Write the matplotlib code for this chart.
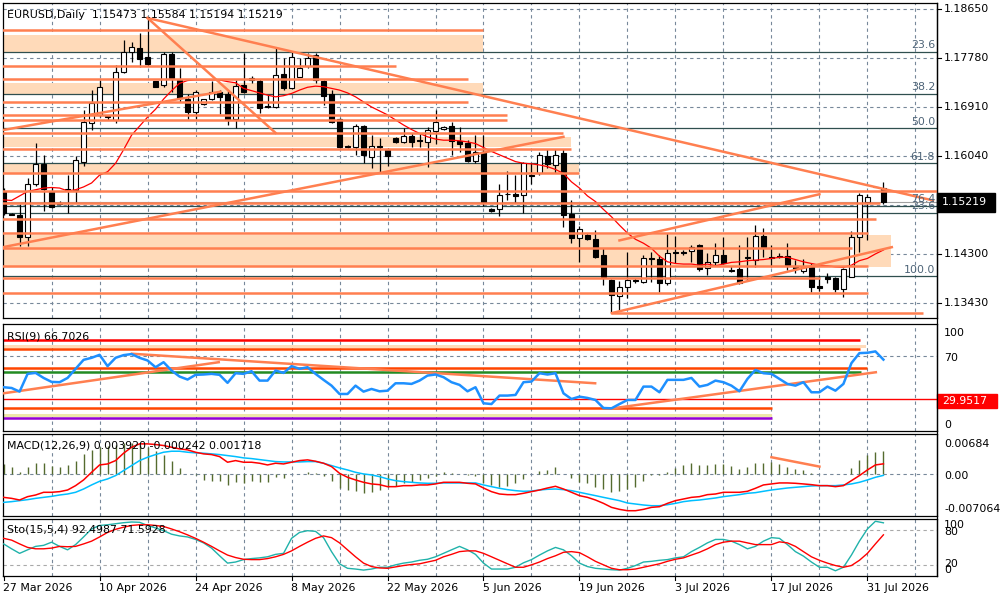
import matplotlib
matplotlib.use('Agg')
import numpy as np
import matplotlib.pyplot as plt
from matplotlib.patches import Rectangle
from matplotlib.transforms import blended_transform_factory

plt.rcParams['font.family'] = ['DejaVu Sans']
FS = 7.9

# ---- datos de velas (diario EURUSD) ----
open_ = [1.1540, 1.1501, 1.1499, 1.1460, 1.1554, 1.1590, 1.1540, 1.1521, 1.1545, 1.1544,
         1.1593, 1.1663, 1.1677, 1.1675, 1.1668, 1.1753, 1.1789, 1.1796, 1.1780, 1.1737,
         1.1730, 1.1785, 1.1739, 1.1705, 1.1682, 1.1696, 1.1705, 1.1718, 1.1714, 1.1670,
         1.1730, 1.1739, 1.1737, 1.1693, 1.1691, 1.1750, 1.1725, 1.1744, 1.1764, 1.1783,
         1.1737, 1.1714, 1.1670, 1.1621, 1.1620, 1.1657, 1.1602, 1.1622, 1.1616, 1.1636,
         1.1629, 1.1640, 1.1632, 1.1629, 1.1648, 1.1652, 1.1657, 1.1631, 1.1627, 1.1595,
         1.1611, 1.1510, 1.1510, 1.1537, 1.1537, 1.1535, 1.1570, 1.1574, 1.1604, 1.1588,
         1.1609, 1.1501, 1.1458, 1.1464, 1.1457, 1.1428, 1.1384, 1.1355, 1.1371, 1.1384,
         1.1380, 1.1423, 1.1421, 1.1378, 1.1433, 1.1433, 1.1435, 1.1446, 1.1405, 1.1416,
         1.1428, 1.1402, 1.1403, 1.1423, 1.1419, 1.1462, 1.1425, 1.1426, 1.1426, 1.1409,
         1.1400, 1.1407, 1.1373, 1.1389, 1.1387, 1.1368, 1.1389, 1.1460, 1.1522, 1.1549,
         1.15473]
high = [1.1547, 1.1503, 1.1519, 1.1565, 1.1627, 1.1606, 1.1549, 1.1524, 1.1570, 1.1604,
        1.1686, 1.1721, 1.1739, 1.1677, 1.1766, 1.1810, 1.1806, 1.1822, 1.1849, 1.1738,
        1.1789, 1.1789, 1.1760, 1.1714, 1.1721, 1.1705, 1.1737, 1.1721, 1.1719, 1.1739,
        1.1787, 1.1746, 1.1741, 1.1712, 1.1796, 1.1778, 1.1789, 1.1778, 1.1787, 1.1787,
        1.1739, 1.1721, 1.1671, 1.1623, 1.1661, 1.1659, 1.1641, 1.1636, 1.1618, 1.1638,
        1.1654, 1.1645, 1.1645, 1.1655, 1.1686, 1.1657, 1.1664, 1.1655, 1.1632, 1.1641,
        1.1641, 1.1512, 1.1554, 1.1577, 1.1570, 1.1593, 1.1592, 1.1611, 1.1616, 1.1616,
        1.1616, 1.1526, 1.1480, 1.1467, 1.1473, 1.1441, 1.1386, 1.1382, 1.1433, 1.1387,
        1.1428, 1.1433, 1.1428, 1.1467, 1.1462, 1.1437, 1.1446, 1.1448, 1.1432, 1.1449,
        1.1460, 1.1409, 1.1446, 1.1460, 1.1481, 1.1476, 1.1446, 1.1432, 1.1449, 1.1419,
        1.1421, 1.1414, 1.1391, 1.1396, 1.1389, 1.1405, 1.1471, 1.1538, 1.1537, 1.1550,
        1.15584]
low = [1.1499, 1.1499, 1.1444, 1.1444, 1.1551, 1.1506, 1.1512, 1.1517, 1.1503, 1.1522,
       1.1586, 1.1650, 1.1673, 1.1668, 1.1663, 1.1751, 1.1771, 1.1762, 1.1764, 1.1726,
       1.1726, 1.1718, 1.1700, 1.1670, 1.1670, 1.1695, 1.1703, 1.1679, 1.1659, 1.1654,
       1.1716, 1.1734, 1.1680, 1.1689, 1.1689, 1.1721, 1.1723, 1.1744, 1.1760, 1.1734,
       1.1695, 1.1663, 1.1618, 1.1619, 1.1606, 1.1592, 1.1583, 1.1574, 1.1586, 1.1627,
       1.1627, 1.1620, 1.1620, 1.1584, 1.1625, 1.1650, 1.1606, 1.1611, 1.1593, 1.1592,
       1.1515, 1.1505, 1.1497, 1.1526, 1.1521, 1.1503, 1.1554, 1.1570, 1.1583, 1.1574,
       1.1478, 1.1449, 1.1416, 1.1455, 1.1423, 1.1375, 1.1325, 1.1330, 1.1352, 1.1378,
       1.1378, 1.1380, 1.1362, 1.1375, 1.1414, 1.1428, 1.1416, 1.1400, 1.1393, 1.1410,
       1.1412, 1.1398, 1.1377, 1.1382, 1.1407, 1.1425, 1.1407, 1.1423, 1.1402, 1.1396,
       1.1396, 1.1362, 1.1364, 1.1378, 1.1362, 1.1354, 1.1389, 1.1433, 1.1455, 1.1548,
       1.15194]
close = [1.1503, 1.1500, 1.1460, 1.1554, 1.1590, 1.1545, 1.1513, 1.1519, 1.1544, 1.1597,
         1.1664, 1.1698, 1.1726, 1.1673, 1.1753, 1.1789, 1.1798, 1.1776, 1.1767, 1.1727,
         1.1785, 1.1742, 1.1707, 1.1682, 1.1718, 1.1705, 1.1718, 1.1709, 1.1668, 1.1728,
         1.1718, 1.1742, 1.1689, 1.1691, 1.1748, 1.1725, 1.1780, 1.1760, 1.1778, 1.1739,
         1.1711, 1.1664, 1.1620, 1.1620, 1.1657, 1.1606, 1.1622, 1.1620, 1.1604, 1.1629,
         1.1640, 1.1629, 1.1631, 1.1650, 1.1664, 1.1655, 1.1631, 1.1625, 1.1595, 1.1611,
         1.1521, 1.1506, 1.1535, 1.1536, 1.1533, 1.1592, 1.1569, 1.1606, 1.1590, 1.1606,
         1.1499, 1.1458, 1.1474, 1.1457, 1.1425, 1.1389, 1.1357, 1.1371, 1.1384, 1.1382,
         1.1423, 1.1421, 1.1378, 1.1432, 1.1432, 1.1432, 1.1442, 1.1403, 1.1416, 1.1428,
         1.1414, 1.1400, 1.1378, 1.1425, 1.1462, 1.1442, 1.1423, 1.1425, 1.1410, 1.1403,
         1.1407, 1.1371, 1.1370, 1.1386, 1.1368, 1.1403, 1.1460, 1.1535, 1.1531, 1.1549,
         1.15219]

# media movil roja del grafico principal
ma = [1.1526, 1.1525, 1.1533, 1.1541, 1.1544, 1.1547, 1.1548, 1.1547, 1.1542, 1.1544,
      1.1549, 1.1556, 1.1570, 1.1576, 1.1591, 1.1615, 1.1641, 1.1657, 1.1673, 1.1687,
      1.1705, 1.1720, 1.1733, 1.1738, 1.1739, 1.1739, 1.1739, 1.1739, 1.1736, 1.1734,
      1.1724, 1.1720, 1.1716, 1.1712, 1.1709, 1.1711, 1.1715, 1.1721, 1.1726, 1.1728,
      1.1727, 1.1724, 1.1721, 1.1716, 1.1709, 1.1700, 1.1691, 1.1684, 1.1677, 1.1668,
      1.1659, 1.1651, 1.1644, 1.1638, 1.1634, 1.1632, 1.1632, 1.1631, 1.1629, 1.1626,
      1.1619, 1.1612, 1.1606, 1.1600, 1.1594, 1.1591, 1.1590, 1.1588, 1.1585, 1.1580,
      1.1573, 1.1558, 1.1547, 1.1533, 1.1523, 1.1509, 1.1496, 1.1481, 1.1467, 1.1456,
      1.1449, 1.1440, 1.1426, 1.1416, 1.1413, 1.1412, 1.1412, 1.1410, 1.1412, 1.1409,
      1.1412, 1.1415, 1.1416, 1.1418, 1.1419, 1.1420, 1.1422, 1.1424, 1.1424, 1.1420,
      1.1416, 1.1413, 1.1410, 1.1409, 1.1407, 1.1406, 1.1410, 1.1418, 1.1422, 1.1430,
      1.1437]

rsi = [40.9, 40.2, 36.8, 53.4, 54.3, 49.6, 45.9, 45.6, 49.6, 58.1,
       66.5, 68.4, 71.2, 60.6, 68.4, 70.9, 71.9, 68.4, 65.9, 59.6,
       64.3, 56.5, 50.9, 48.1, 52.5, 52.8, 53.4, 52.5, 45.0, 54.0,
       53.4, 55.9, 47.1, 47.1, 56.5, 54.3, 60.6, 58.1, 59.6, 53.4,
       47.8, 42.4, 34.6, 34.6, 42.4, 36.8, 39.3, 37.1, 37.7, 44.6,
       44.6, 44.0, 47.1, 51.8, 52.8, 50.3, 45.6, 43.1, 37.1, 40.9,
       25.9, 25.2, 33.1, 33.1, 33.7, 45.6, 46.2, 54.0, 52.8, 54.0,
       35.2, 29.9, 32.1, 30.9, 29.0, 21.5, 21.2, 25.2, 29.0, 29.0,
       41.5, 41.5, 36.2, 47.8, 47.8, 47.8, 49.6, 41.5, 43.1, 47.1,
       45.6, 42.4, 37.1, 48.7, 57.1, 54.0, 53.4, 48.7, 44.0, 42.4,
       45.6, 36.2, 36.2, 41.5, 37.7, 44.0, 63.4, 72.8, 73.1, 74.4,
       66.7026]

macd_hist = [0.0017, 0.00125, 0.00028, 0.00114, 0.00193, 0.00193, 0.00142, 0.00125, 0.00148, 0.00227,
             0.00341, 0.00409, 0.00466, 0.00483, 0.0050, 0.00523, 0.00523, 0.0050, 0.00466, 0.00386,
             0.00329, 0.00216, 0.00102, 0.0, -0.0001, -0.00097, -0.00114, -0.00125, -0.00182, -0.00142,
             -0.00159, -0.00125, -0.00142, -0.00142, -0.00057, -0.00068, 0.00005, 0.00005, 0.00028, 0.0001,
             -0.00028, -0.00125, -0.00239, -0.00273, -0.00284, -0.00329, -0.00312, -0.00273, -0.00216, -0.00199,
             -0.00159, -0.00142, -0.00102, -0.00068, -0.00028, 0.00028, 0.0001, 0.00005, -0.0001, -0.00028,
             -0.00159, -0.00182, -0.00216, -0.00199, -0.00159, -0.00085, 0.00005, 0.00045, 0.00068, 0.00125,
             0.00005, -0.00068, -0.00142, -0.00159, -0.00216, -0.00256, -0.00312, -0.00284, -0.00256, -0.00216,
             -0.00114, -0.0001, -0.0002, 0.0004, 0.00102, 0.00148, 0.00187, 0.00159, 0.00159, 0.00176,
             0.00176, 0.00142, 0.00091, 0.00114, 0.00182, 0.00193, 0.00204, 0.0017, 0.00125, 0.00091,
             0.00068, 0.00023, 0.00005, 0.00005, 0.00005, 0.00005, 0.00097, 0.00239, 0.00324, 0.0038,
             0.003920]
macd_red = [-0.00398, -0.00415, -0.00443, -0.00386, -0.00358, -0.00312, -0.00312, -0.00301, -0.00273, -0.00199,
            -0.00102, 0.00028, 0.00153, 0.0017, 0.00227, 0.00352, 0.00454, 0.00511, 0.00511, 0.0050,
            0.00483, 0.00454, 0.00426, 0.00409, 0.00369, 0.00341, 0.00329, 0.00295, 0.00199, 0.00227,
            0.00199, 0.00199, 0.00182, 0.00153, 0.00182, 0.0017, 0.00199, 0.00227, 0.00239, 0.00216,
            0.00182, 0.00125, 0.00011, -0.00057, -0.00102, -0.00142, -0.0017, -0.00182, -0.00216, -0.00216,
            -0.00199, -0.00199, -0.00187, -0.00187, -0.0017, -0.00142, -0.00142, -0.00142, -0.00159, -0.0017,
            -0.00239, -0.00301, -0.00341, -0.00352, -0.00352, -0.00329, -0.00301, -0.00273, -0.00239, -0.0021,
            -0.00256, -0.00312, -0.00369, -0.00398, -0.00443, -0.0050, -0.00568, -0.00602, -0.00625, -0.00625,
            -0.00602, -0.00568, -0.00557, -0.0050, -0.00454, -0.00426, -0.00398, -0.00386, -0.00352, -0.00341,
            -0.00312, -0.00312, -0.00312, -0.00295, -0.00244, -0.00187, -0.0017, -0.00153, -0.00153, -0.00159,
            -0.0017, -0.00182, -0.00199, -0.00199, -0.00216, -0.00199, -0.00114, -0.00028, 0.00068, 0.00153,
            0.001718]
macd_blue = [-0.00483, -0.00471, -0.00454, -0.00437, -0.00415, -0.00398, -0.00381, -0.00358, -0.00341, -0.00312,
             -0.00256, -0.00187, -0.00125, -0.00085, -0.00028, 0.00057, 0.00142, 0.00227, 0.00284, 0.00329,
             0.00369, 0.00386, 0.00386, 0.00369, 0.00358, 0.00352, 0.00341, 0.00329, 0.00312, 0.00295,
             0.00273, 0.00261, 0.00244, 0.00227, 0.0021, 0.00204, 0.00204, 0.00204, 0.0021, 0.0021,
             0.00182, 0.00142, 0.00102, 0.00068, 0.00028, 0.0, -0.00017, -0.00045, -0.00085, -0.00114,
             -0.00131, -0.00142, -0.00153, -0.00159, -0.00159, -0.00153, -0.00153, -0.00153, -0.00153, -0.00153,
             -0.00187, -0.00216, -0.00244, -0.00267, -0.00284, -0.00295, -0.0029, -0.00273, -0.00261, -0.00256,
             -0.00267, -0.00284, -0.00312, -0.00341, -0.00369, -0.00398, -0.00426, -0.00454, -0.00494, -0.00511,
             -0.00528, -0.0054, -0.0054, -0.00523, -0.0050, -0.00471, -0.00454, -0.00443, -0.00426, -0.00409,
             -0.00386, -0.00369, -0.00352, -0.00329, -0.00318, -0.00295, -0.00273, -0.00256, -0.00239, -0.00227,
             -0.00216, -0.00204, -0.00199, -0.00199, -0.00199, -0.00187, -0.0017, -0.00142, -0.00102, -0.00057,
             -0.000242]

sto_main = [55.8, 47.3, 39.4, 45.5, 51.5, 53.3, 58.8, 51.5, 45.5, 54.6,
            67.9, 81.8, 87.9, 89.1, 90.9, 92.7, 93.9, 93.4, 87.9, 83.6,
            78.8, 72.7, 69.7, 67.9, 63.6, 57.6, 48.5, 35.2, 22.4, 24.3,
            28.5, 30.3, 31.5, 33.4, 37.6, 39.4, 65.5, 75.8, 78.8, 77.6,
            66.7, 42.4, 21.2, 13.4, 12.1, 10.3, 12.1, 15.2, 15.2, 19.4,
            22.4, 24.3, 27.3, 29.1, 33.4, 39.4, 45.5, 51.5, 45.5, 37.6,
            22.4, 12.1, 12.1, 12.1, 15.2, 23.0, 28.5, 36.4, 43.7, 49.7,
            45.5, 35.2, 22.4, 16.4, 13.4, 12.1, 10.9, 10.3, 13.4, 18.2,
            24.3, 25.5, 27.3, 28.5, 31.5, 33.4, 42.4, 49.7, 57.6, 63.6,
            63.6, 60.6, 54.6, 47.3, 51.5, 60.6, 66.7, 65.5, 54.6, 42.4,
            34.6, 24.3, 15.2, 15.2, 9.1, 15.2, 36.4, 60.6, 81.8, 95.2,
            92.4987]
sto_signal = [65.5, 62.4, 55.8, 49.7, 47.3, 47.3, 48.5, 51.5, 50.9, 51.5,
              55.8, 60.6, 67.9, 75.8, 81.2, 84.9, 87.9, 89.1, 89.1, 87.9,
              86.1, 81.8, 77.0, 71.5, 65.5, 58.8, 51.5, 43.7, 36.4, 32.1,
              29.1, 28.5, 28.5, 30.3, 33.4, 37.6, 43.7, 51.5, 58.8, 65.5,
              69.7, 66.7, 57.6, 45.5, 33.4, 22.4, 16.4, 14.0, 13.4, 15.8,
              18.2, 20.0, 21.2, 24.3, 27.3, 33.4, 37.6, 42.4, 43.7, 43.7,
              39.4, 33.4, 27.3, 21.2, 15.2, 15.2, 19.4, 24.3, 30.3, 35.2,
              41.2, 42.4, 40.6, 33.4, 25.5, 19.4, 13.4, 10.9, 10.9, 12.1,
              15.2, 18.2, 21.2, 25.5, 29.1, 31.5, 36.4, 41.2, 47.3, 54.6,
              58.8, 60.6, 60.6, 57.6, 54.6, 54.6, 54.6, 59.4, 57.6, 51.5,
              42.4, 33.4, 27.3, 22.4, 18.2, 15.2, 18.2, 27.3, 39.4, 55.8,
              71.5928]

date_pos = [0, 12, 24, 36, 48, 60, 72, 84, 96, 108]
date_labels = ['27 Mar 2026', '10 Apr 2026', '24 Apr 2026', '8 May 2026', '22 May 2026',
               '5 Jun 2026', '19 Jun 2026', '3 Jul 2026', '17 Jul 2026', '31 Jul 2026']
price_ticks = [1.18650, 1.17780, 1.16910, 1.16040, 1.14300, 1.13430]
price_grid = [1.18650, 1.17780, 1.16910, 1.16040, 1.15170, 1.14300, 1.13430]
bid = 1.15219

fib_prices = [1.1789, 1.1714, 1.1653, 1.1591, 1.1515, 1.1503, 1.1390]
fib_names = ['23.6', '38.2', '50.0', '61.8', '76.4', '23.6', '100.0']

# lineas horizontales: (inicio, fin, precio)
h_lines = [(-1, 60.0, 1.1828), (-1, 49.1, 1.1763), (-1, 58.1, 1.1741), (-1, 58.1, 1.1699),
           (-1, 63.0, 1.1677), (-1, 63.0, 1.1667), (-1, 70.0, 1.1644), (-1, 71.0, 1.1617),
           (-1, 72.0, 1.1573), (-1, 118, 1.1542), (-1, 109.6, 1.1521), (-1, 109.1, 1.1492),
           (-1, 108.1, 1.1467), (-1, 106.1, 1.1440), (-1, 108.1, 1.1409), (-1, 102.1, 1.1387),
           (-1, 108.1, 1.1361), (76.0, 115.0, 1.1325)]
# bandas: (abajo, arriba, fin)
bands = [(1.1788, 1.1818, 60.0), (1.1714, 1.1734, 60.0), (1.1620, 1.1638, 71.0),
         (1.1572, 1.1589, 72.0), (1.1407, 1.1464, 111.0)]
# lineas de tendencia: (x0, p0, x1, p1)
trends = [(18, 1.1849, 116.2, 1.1525), (18, 1.1849, 34.0, 1.1645),
          (-0.08, 1.1650, 27.1, 1.1718), (-0.08, 1.1442, 70.0, 1.1638),
          (77.0, 1.1454, 102.0, 1.1536), (76.05, 1.1325, 111.05, 1.1442)]

rsi_hlines = [(107.1, 84.7, '#ff0000'), (107.1, 76.2, '#ff4500'), (107.9, 58.7, '#ff4500'),
              (107.2, 54.9, '#228b22'), (96.05, 21.1, '#ff4500'), (96.05, 11.7, '#9400d3')]
rsi_bands = [(77.8, 80.3, 107.8, '#ffdab9'), (12.7, 15.9, 96.05, '#eee8aa')]
rsi_trends = [(-0.05, 35.2, 26.9, 64.3), (16.05, 72.2, 73.96, 44.6), (76.05, 21.1, 109.05, 54.9)]
rsi_level = 29.9517
macd_trend = (96.0, 0.00284, 102.0, 0.00125)

ORANGE = '#ff7f50'
PEACH = '#ffdab9'
GRID = '#77889a'
FIBC = '#2f4f4f'
DASH = (0, (3, 3))
XMIN, XMAX = -0.075, 116.7


def fx(p):
    return p / 1000.0


def fy(p):
    return 1 - p / 600.0


fig = plt.figure(figsize=(10, 6), dpi=100)
fig.patch.set_facecolor('white')


def panel(top, bottom):
    ax = fig.add_axes([fx(3), fy(bottom), fx(937) - fx(3), (bottom - top) / 600.0])
    ax.set_xlim(XMIN, XMAX)
    ax.set_xticks([])
    ax.set_yticks([])
    for s in ax.spines.values():
        s.set_linewidth(0.9)
        s.set_color('black')
    for b in range(6, 117, 6):
        ax.axvline(b, color=GRID, lw=0.8, ls=DASH, zorder=0.5)
    return ax


ax = panel(2.7, 318)
ax_rsi = panel(324, 431)
ax_macd = panel(433.7, 515.5)
ax_sto = panel(518.5, 576)

x = np.arange(len(close))
o = np.array(open_)
c = np.array(close)
h = np.array(high)
l = np.array(low)

# ---- grafico principal ----
ax.set_ylim(1.13162, 1.18762)
for p in price_grid:
    ax.axhline(p, color=GRID, lw=0.8, ls=DASH, zorder=0.5)
for lo, hi, end in bands:
    ax.add_patch(Rectangle((-1, lo), end + 1, hi - lo, facecolor=PEACH, edgecolor='none', zorder=1))
for p in fib_prices:
    ax.axhline(p, color=FIBC, lw=0.9, zorder=1.5)
ax.axhline(bid, color='#a0a0a0', lw=0.8, zorder=1.4)

ax.vlines(x, l, h, color='black', lw=0.9, zorder=2)
up = c >= o
body_lo = np.minimum(o, c)
body_h = np.maximum(np.abs(c - o), 0.00006)
ax.bar(x, body_h, bottom=body_lo, width=0.6, color=np.where(up, 'white', 'black'),
       edgecolor='black', linewidth=0.8, zorder=2.1)
ax.plot(x, ma, color='red', lw=0.9, zorder=3)

for x0, x1, p in h_lines:
    ax.plot([x0, x1], [p, p], color=ORANGE, lw=1.8, zorder=4, solid_capstyle='butt')
for x0, p0, x1, p1 in trends:
    ax.plot([x0, x1], [p0, p1], color=ORANGE, lw=1.8, zorder=4)

trm = blended_transform_factory(ax.transAxes, ax.transData)
for p, name in zip(fib_prices, fib_names):
    ax.text(116.45, p + 0.0012, name, fontsize=FS, color='#4e6478', ha='right', va='center', zorder=5)
for p in price_ticks:
    ax.text(1.0075, p, '%.5f' % p, transform=trm, fontsize=FS, ha='left', va='center', clip_on=False)
    ax.plot([1.0, 1.0045], [p, p], transform=trm, color='black', lw=0.8, clip_on=False)

fig.patches.append(Rectangle((fx(937), fy(212)), fx(58), 19 / 600.0, transform=fig.transFigure,
                             facecolor='black', edgecolor='black'))
fig.text(fx(942), fy(202.3), '%.5f' % bid, fontsize=FS, color='white', ha='left', va='center')
ax.text(0.004, 0.962, 'EURUSD,Daily  1.15473 1.15584 1.15194 1.15219', transform=ax.transAxes,
        fontsize=FS, ha='left', va='center', zorder=6)

# ---- RSI ----
ax_rsi.set_ylim(0, 100)
ax_rsi.axhline(70, color=GRID, lw=0.8, ls=DASH, zorder=0.5)
for lo, hi, end, col in rsi_bands:
    ax_rsi.add_patch(Rectangle((-1, lo), end + 1, hi - lo, facecolor=col, edgecolor='none', zorder=1))
for end, v, col in rsi_hlines:
    ax_rsi.plot([-1, end], [v, v], color=col, lw=1.8, zorder=2, solid_capstyle='butt')
ax_rsi.axhline(rsi_level, color='red', lw=1.0, zorder=2)
for x0, v0, x1, v1 in rsi_trends:
    ax_rsi.plot([x0, x1], [v0, v1], color=ORANGE, lw=1.8, zorder=3)
ax_rsi.plot(x, rsi, color='#1e90ff', lw=1.8, zorder=4)
ax_rsi.text(0.004, 0.88, 'RSI(9) 66.7026', transform=ax_rsi.transAxes, fontsize=FS, ha='left', va='center')
fig.patches.append(Rectangle((fx(937), fy(407.5)), fx(60), 14 / 600.0, transform=fig.transFigure,
                             facecolor='red', edgecolor='red'))
fig.text(fx(942), fy(400.5), '29.9517', fontsize=FS, color='white', ha='left', va='center')
for yp, s in [(333, '100'), (357.7, '70'), (425, '0')]:
    fig.text(fx(944), fy(yp), s, fontsize=FS, ha='left', va='center')

# ---- MACD ----
ax_macd.set_ylim(-0.007064, 0.00684)
ax_macd.axhline(0, color=GRID, lw=0.8, ls=DASH, zorder=0.5)
ax_macd.vlines(x, 0, macd_hist, color='#556b2f', lw=1.0, zorder=2)
ax_macd.plot(x, macd_blue, color='#00bfff', lw=1.1, zorder=3)
ax_macd.plot(x, macd_red, color='red', lw=1.1, zorder=3)
ax_macd.plot([macd_trend[0], macd_trend[2]], [macd_trend[1], macd_trend[3]], color=ORANGE, lw=1.8, zorder=4)
ax_macd.text(0.004, 0.86, 'MACD(12,26,9) 0.003920 -0.000242 0.001718', transform=ax_macd.transAxes,
             fontsize=FS, ha='left', va='center')
for yp, s in [(444, '0.00684'), (475.7, '0.00'), (509, '-0.007064')]:
    fig.text(fx(944), fy(yp), s, fontsize=FS, ha='left', va='center')

# ---- Estocastico ----
ax_sto.set_ylim(0, 100)
for v in (80, 20):
    ax_sto.axhline(v, color='#a9a9a9', lw=0.8, ls=DASH, zorder=0.5)
ax_sto.plot(x, sto_main, color='#20b2aa', lw=1.0, zorder=3)
ax_sto.plot(x, sto_signal, color='red', lw=1.0, zorder=3)
ax_sto.text(0.004, 0.8, 'Sto(15,5,4) 92.4987 71.5928', transform=ax_sto.transAxes,
            fontsize=FS, ha='left', va='center')
for yp, s in [(525, '100'), (531.7, '80'), (564.3, '20'), (570, '0')]:
    fig.text(fx(944), fy(yp), s, fontsize=FS, ha='left', va='center')

# fechas
trx = blended_transform_factory(ax_sto.transData, fig.transFigure)
for pos, lab in zip(date_pos, date_labels):
    ax_sto.plot([pos, pos], [fy(576), fy(580)], transform=trx, color='black', lw=0.8, clip_on=False)
    ax_sto.text(pos - 0.05, fy(588), lab, transform=trx, fontsize=FS, ha='left', va='center')

# bordes del eje de precios a la derecha
fig.add_artist(plt.Line2D([fx(937), fx(937)], [fy(2.7), fy(576)], color='black', lw=0.9))

fig.savefig('out.png', dpi=100)
